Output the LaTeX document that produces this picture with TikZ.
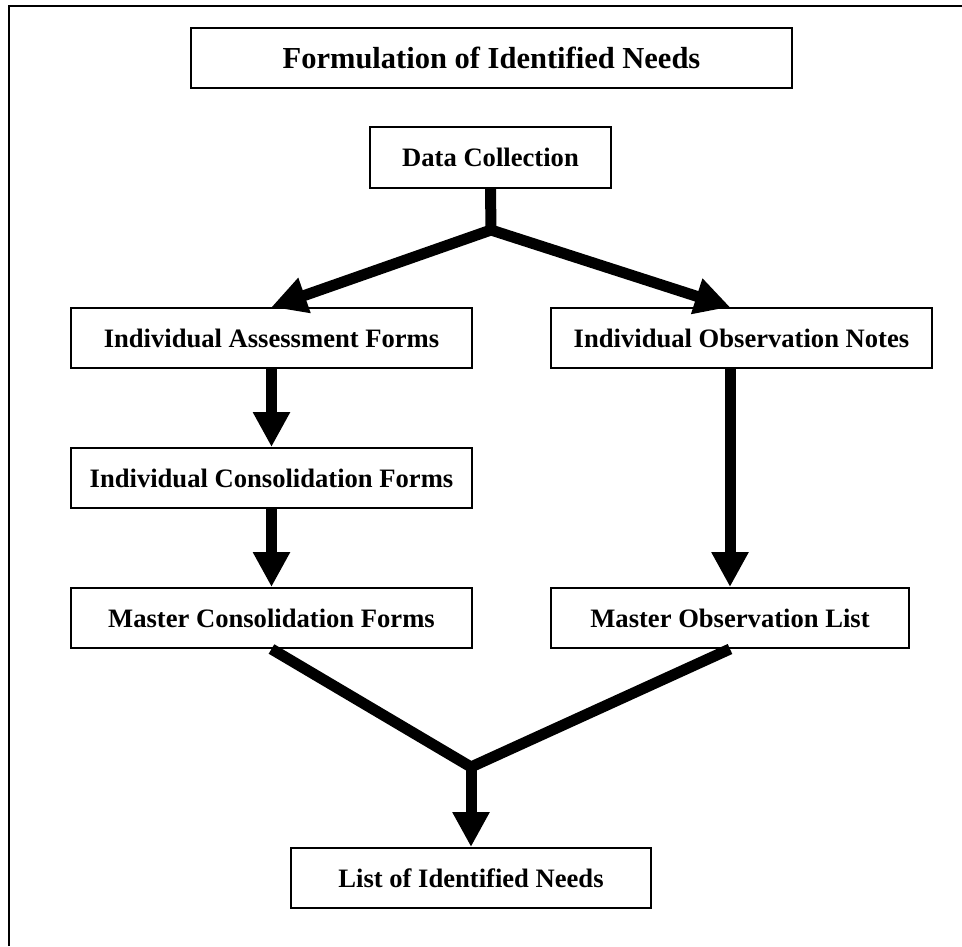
\documentclass[tikz,border=0pt]{standalone}
\usepackage{fontspec}
\setmainfont{Liberation Serif}
\usetikzlibrary{arrows.meta,positioning}
\tikzset{
  stage/.style={
    draw=black,
    line width=2pt,
    rectangle,
    inner sep=0pt,
    minimum height=60pt,
    align=center,
    font=\bfseries\fontsize{26.6}{30}\selectfont
  },
  headbox/.style={
    stage,
    font=\bfseries\fontsize{30.5}{34}\selectfont
  },
  flow/.style={
    line width=11pt,
    -{Triangle[width=35pt,length=35pt]}
  },
  merge/.style={
    line width=11pt
  }
}

\begin{document}
\begin{tikzpicture}[x=1pt,y=-1pt]
\useasboundingbox (0,0) rectangle (962,946);
\draw[line width=2pt] (9,946) -- (9,6) -- (962,6);

\node[headbox, minimum width=601pt] (title) at (491.5,58) {Formulation of Identified Needs};
\node[stage, minimum width=241pt, minimum height=61pt] (dc) at (490.5,157.5) {Data Collection};
\node[stage, minimum width=401pt] (iaf) at (271.5,338) {Individual Assessment Forms};
\node[stage, minimum width=381pt] (ion) at (741.5,338) {Individual Observation Notes};
\node[stage, minimum width=401pt] (icf) at (271.5,478) {Individual Consolidation Forms};
\node[stage, minimum width=401pt] (mcf) at (271.5,618) {Master Consolidation Forms};
\node[stage, minimum width=358pt] (mol) at (730,618) {Master Observation List};
\node[stage, minimum width=360pt] (lin) at (471,878) {List of Identified Needs};

\coordinate (split) at (491,230);
\coordinate (join) at (471,767);

\draw[merge] (dc.south) -- (split);
\draw[flow] (split) -- (iaf.north);
\draw[flow] (split) -- (ion.north -| mol.north);
\draw[flow] (iaf.south) -- (icf.north);
\draw[flow] (icf.south) -- (mcf.north);
\draw[flow] (ion.south -| mol.north) -- (mol.north);

\draw[merge] (mcf.south) -- (join) -- (mol.south);
\draw[flow] (join) -- (lin.north);
\end{tikzpicture}
\end{document}
